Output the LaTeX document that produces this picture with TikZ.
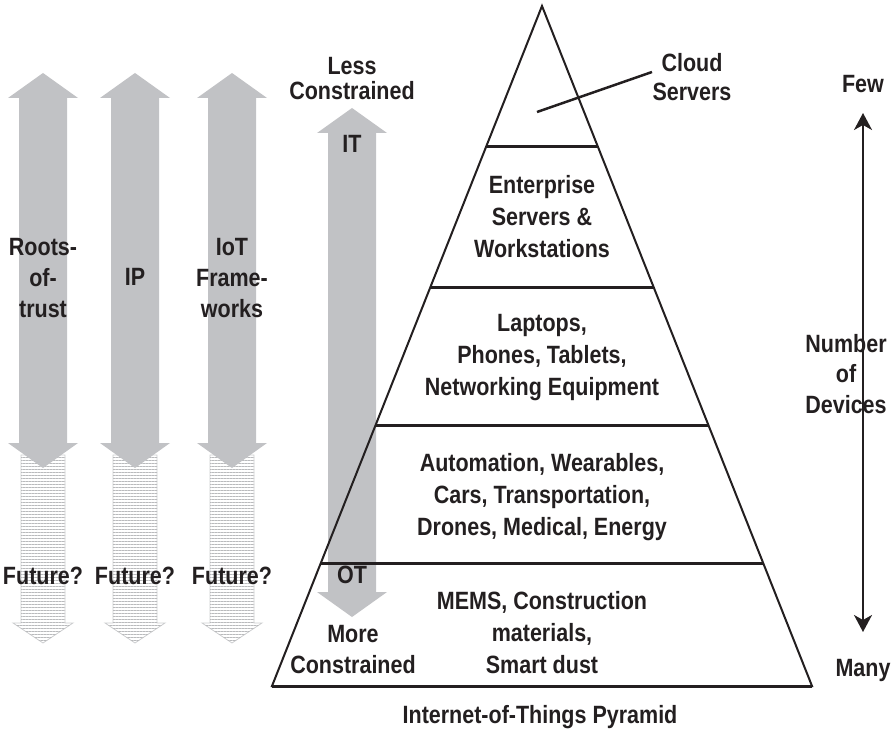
\documentclass[tikz,border=0pt]{standalone}
\usepackage{fontspec}
\setmainfont[FakeStretch=0.86]{Liberation Sans}
\usetikzlibrary{patterns.meta,arrows.meta}
\definecolor{txt}{RGB}{35,31,32}
\definecolor{arrgray}{RGB}{193,194,197}
\definecolor{stripe}{RGB}{185,186,188}
\definecolor{stripeedge}{RGB}{205,206,208}
\newcommand\myDblArrow[3]{% x, ytop, ybot
  \fill[arrgray] (#1,#2) -- (#1+35,#2+25) -- (#1+24,#2+25) -- (#1+24,#3-25) -- (#1+35,#3-25)
    -- (#1,#3) -- (#1-35,#3-25) -- (#1-24,#3-25) -- (#1-24,#2+25) -- (#1-35,#2+25) -- cycle;}
\newcommand\myStripeArrow[3]{% x, ytop, ytip
  \draw[stripeedge, line width=0.8pt, fill=white, postaction={pattern={Lines[angle=0,distance=3pt,line width=0.7pt]}, pattern color=stripe}]
    (#1-22,#2) -- (#1+22,#2) -- (#1+22,#3-20) -- (#1+30,#3-20) -- (#1,#3) -- (#1-30,#3-20) -- (#1-22,#3-20) -- cycle;}
\begin{document}
\begin{tikzpicture}[x=1pt,y=-1pt,
  lbl/.style={font=\fontsize{25}{32}\selectfont\bfseries, text=txt, inner sep=0pt, align=center},
  pyr/.style={draw=txt, line width=2pt, line join=miter},
  tier/.style={draw=txt, line width=3pt}]
\useasboundingbox (0,0) rectangle (894,730);

% left arrows: striped (future) parts first, then solid
\myStripeArrow{43}{455}{643}
\myStripeArrow{135}{455}{643}
\myStripeArrow{232}{455}{643}
\myDblArrow{43}{73}{468}
\myDblArrow{135}{73}{468}
\myDblArrow{232}{73}{468}

% IT / OT arrow
\myDblArrow{352}{108}{617}

% pyramid
\coordinate (apex) at (542,6);
\coordinate (bl) at (272,686);
\coordinate (br) at (812,686);
\draw[pyr] (apex) -- (bl) -- (br) -- cycle;
\draw[tier] (bl) -- (br);
\draw[tier] (486,147) -- (598,147);
\draw[tier] (430.4,287) -- (653.6,287);
\draw[tier] (375.6,425) -- (708.4,425);
\draw[tier] (320.8,563) -- (763.2,563);

% cloud servers pointer
\coordinate (cl1) at (537,112);
\coordinate (cl2) at (652,72);
\draw[txt, line width=2.5pt] (cl1) -- (cl2);
\node[lbl, font=\fontsize{25}{29}\selectfont\bfseries, anchor=north] (cloud) at (692,53) {Cloud\\Servers};

% tier texts
\node[lbl, anchor=north] (ent) at (542,175) {Enterprise\\Servers \&\\Workstations};
\node[lbl, anchor=north] (lap) at (542,314) {Laptops,\\Phones, Tablets,\\Networking Equipment};
\node[lbl, anchor=north] (aut) at (542,453) {Automation, Wearables,\\Cars, Transportation,\\Drones, Medical, Energy};
\node[lbl, anchor=north] (mems) at (542,591) {MEMS, Construction\\materials,\\Smart dust};
\node[lbl, anchor=base] (title) at (540,723) {Internet-of-Things Pyramid};

% IT / OT labels
\node[lbl, font=\fontsize{25}{25}\selectfont\bfseries, anchor=north] (less) at (352,57) {Less\\Constrained};
\node[lbl, anchor=base] (it) at (352,153) {IT};
\node[lbl, anchor=base] (ot) at (352,583) {OT};
\node[lbl, font=\fontsize{25}{31}\selectfont\bfseries, anchor=north] (more) at (353,625) {More\\Constrained};

% left labels
\node[lbl, font=\fontsize{25}{31}\selectfont\bfseries, anchor=north] (rot) at (43,238) {Roots-\\of-\\trust};
\node[lbl, anchor=base] (ip) at (135,285) {IP};
\node[lbl, font=\fontsize{25}{31}\selectfont\bfseries, anchor=north] (iotf) at (232,238) {IoT\\Frame-\\works};
\node[lbl, anchor=base] (fut1) at (43,584) {Future?};
\node[lbl, anchor=base] (fut2) at (135,584) {Future?};
\node[lbl, anchor=base] (fut3) at (232,584) {Future?};

% number of devices
\coordinate (nd1) at (863,113);
\coordinate (nd2) at (863,632);
\draw[txt, line width=2pt, {Stealth[length=17pt,width=18pt,inset=5pt]}-{Stealth[length=17pt,width=18pt,inset=5pt]}] (nd1) -- (nd2);
\node[lbl, anchor=base] (few) at (863,93) {Few};
\node[lbl, anchor=base] (many) at (863,676) {Many};
\node[lbl, font=\fontsize{25}{30.5}\selectfont\bfseries, anchor=north] (nod) at (846,334) {Number\\of\\Devices};
\end{tikzpicture}
\end{document}
